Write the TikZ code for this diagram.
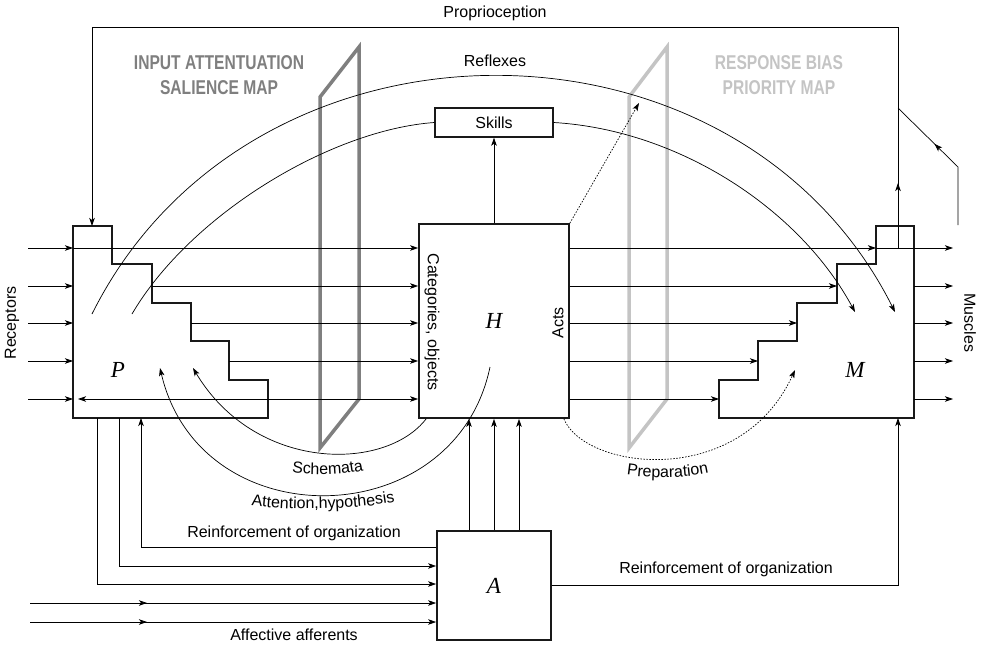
\documentclass[tikz,border=0pt]{standalone}
\usepackage{fontspec}
\setmainfont{Liberation Sans}
\newfontfamily\letterfont{Liberation Serif}
\newfontfamily\mapfont[FakeStretch=0.78]{Liberation Sans}
\newcommand\lblfont{\fontsize{16pt}{19pt}\selectfont}
\usetikzlibrary{arrows.meta,decorations.markings,decorations.text}
\definecolor{mapdark}{HTML}{7F7F7F}
\definecolor{maplight}{HTML}{C4C4C4}
\tikzset{
  box/.style={draw=black!90, line width=1.7pt, inner sep=0pt},
  flow/.style={line width=0.7pt, ->},
  loose/.style={line width=0.7pt},
  dots/.style={dash pattern=on 1.5pt off 1.5pt},
  midarrow/.style={postaction={decorate,decoration={markings,mark=at position #1 with {\arrow{>}}}}},
  letter/.style={font=\letterfont\itshape\fontsize{23pt}{25pt}\selectfont},
  maplbl/.style={font=\mapfont\bfseries\fontsize{20pt}{25pt}\selectfont, align=center},
  curvelbl/.style={decorate, decoration={text along path, text align=center, text={|\lblfont|#1}}}
}
\begin{document}
\begin{tikzpicture}[x=1pt,y=-1pt,font=\lblfont,>={Stealth[length=8pt,width=5.5pt,inset=2pt]}]
\useasboundingbox (0,0) rectangle (983,645);

% salience and priority maps
\draw[mapdark,line width=3.5pt] (320,97) -- (359,47) -- (359,399) -- (320,448) -- cycle;
\draw[maplight,line width=3.5pt] (629,97) -- (667,47) -- (667,399) -- (629,448) -- cycle;
\node[maplbl,text=mapdark] (inmap) at (219,75) {INPUT ATTENTUATION\\SALIENCE MAP};
\node[maplbl,text=maplight] (outmap) at (779,75) {RESPONSE BIAS\\PRIORITY MAP};

% P and M
\draw[box] (73,226) -- (112,226) -- (112,264) -- (152,264) -- (152,303) -- (191,303) -- (191,341)
  -- (229,341) -- (229,380) -- (268,380) -- (268,418) -- (73,418) -- cycle;
\draw[box] (876,226) -- (914,226) -- (914,418) -- (719,418) -- (719,380) -- (758,380) -- (758,341)
  -- (797,341) -- (797,303) -- (837,303) -- (837,264) -- (876,264) -- cycle;
\node[letter] (p) at (118,370) {P};
\node[letter] (m) at (855,370) {M};

% H, A, skills
\node[box,letter,minimum width=150pt,minimum height=194pt] (H) at (494,321) {H};
\node[rotate=-90] (cat) at (432,322) {Categories, objects};
\node[rotate=90] (acts) at (558,323) {Acts};
\node[box,line width=1.4pt,minimum width=118pt,minimum height=29pt] (skills) at (494,122.5) {Skills};
\node[box,letter,minimum width=114pt,minimum height=109pt] (A) at (494,585.5) {A};

% receptors to muscles
\foreach \y in {248,286,323,361,399}{
  \draw[flow] (28,\y) -- (73,\y);
  \draw[flow] (914,\y) -- (953,\y);
}
\foreach \xp/\xm/\y in {73/876/248,152/837/286,191/797/323,229/758/361}{
  \draw[flow] (\xp,\y) -- (H.west |- 0,\y);
  \draw[flow] (H.east |- 0,\y) -- (\xm,\y);
}
\draw[flow,<->] (78,399) -- (H.west |- 0,399);
\draw[flow] (H.east |- 0,399) -- (719,399);
\draw[loose] (876,248) -- (914,248);
\node[rotate=90] (rec) at (12,323) {Receptors};
\node[rotate=-90] (mus) at (970,323) {Muscles};

% proprioception
\draw[flow,midarrow=65pt] (898,248) -- (898,27) -- (92,27) -- (92,226);
\draw[loose,midarrow=91pt] (958,225) -- (958,167) -- (898,108);
\node (prop) at (495,13) {Proprioception};

% reflexes and skills
\draw[flow] (92,314) .. controls (250,-3) and (737,-3) .. (895,312);
\node (refl) at (495,61) {Reflexes};
\draw[loose] (132,314) .. controls (190,215) and (330,130) .. (skills.west);
\draw[flow] (skills.east) .. controls (680,130) and (800,210) .. (855,312);
\draw[flow] (H.north) -- (skills.south);
\draw[flow,dots] (H.north east) -- (639,103);

% schemata, attention, preparation
\draw[flow] ([xshift=8pt]H.south west) .. controls (385,472) and (255,472) .. (193,368);
\draw[flow] (490,367) .. controls (455,535) and (200,540) .. (160,368);
\draw[flow,dots] ([xshift=-6pt]H.south east) .. controls (585,470) and (740,490) .. (795,370);
\path[curvelbl=Schemata] (265,466) .. controls (295,478) and (355,478) .. (390,462);
\path[curvelbl={Attention{,}hypothesis}] (228,502) .. controls (280,512) and (360,512) .. (418,497);
\path[curvelbl=Preparation] (610,471) .. controls (640,480) and (695,480) .. (725,468);

% affective system
\draw[flow] (97,418) |- (A.west |- 0,584);
\draw[flow] (119,418) |- (A.west |- 0,566);
\draw[flow] (A.west |- 0,547) -| (141,418);
\foreach \y in {603,622}
  \draw[flow,midarrow=117pt] (30,\y) -- (A.west |- 0,\y);
\foreach \dx in {-25,0,25}
  \draw[flow] ([xshift=\dx pt]A.north) -- ([xshift=\dx pt]H.south);
\draw[flow] (A.east) -| (898,418);
\node (reinfp) at (294,533) {Reinforcement of organization};
\node (reinfm) at (726,569) {Reinforcement of organization};
\node (aff) at (294,635) {Affective afferents};
\end{tikzpicture}
\end{document}
